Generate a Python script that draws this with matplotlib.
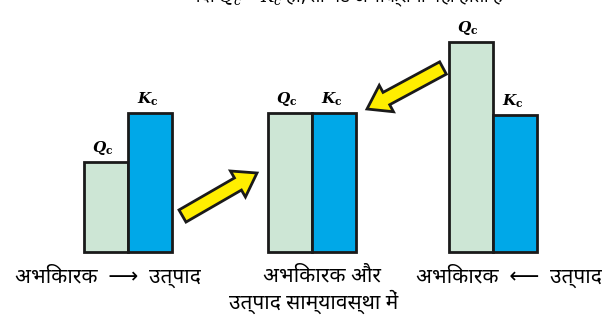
import matplotlib
matplotlib.use("Agg")
import matplotlib.pyplot as plt
import matplotlib.patches as mpatches
from matplotlib import font_manager

# bar heights (baseline = 0), three situations
groups = ["forward", "equilibrium", "backward"]
q_vals = [90, 139, 210]
k_vals = [139, 139, 137]
q_label = r"$\mathbfit{Q}_{\mathbf{c}}$"
k_label = r"$\mathbfit{K}_{\mathbf{c}}$"

captions = ["अभिकारक  ⟶  उत्पाद", "अभिकारक और", "उत्पाद साम्यावस्था में", "अभिकारक  ⟵  उत्पाद"]
top_line = "यदि $Q_c$ = $K_c$ हो, तो नेट अभिक्रिया नहीं होती है"

names = {f.name for f in font_manager.fontManager.ttflist}
deva = next((n for n in ["Noto Sans Devanagari", "Hind", "Mukta", "Anek Devanagari"] if n in names), "DejaVu Sans")
fam = [deva, "DejaVu Sans"]
plt.rcParams["mathtext.fontset"] = "dejavuserif"

q_color = "#cde6d5"
k_color = "#00a8e8"
centers = [127.5, 312, 493]
w = 44

fig = plt.figure(figsize=(6.08, 3.16), dpi=100)
ax = fig.add_axes([0, 0, 1, 1])
ax.set_xlim(0, 608)
ax.set_ylim(-64, 252)
ax.axis("off")

for c, q, k in zip(centers, q_vals, k_vals):
    ax.bar(c - w / 2, q, width=w, color=q_color, edgecolor="#1a1a1a", linewidth=2, zorder=2)
    ax.bar(c + w / 2, k, width=w, color=k_color, edgecolor="#1a1a1a", linewidth=2, zorder=3)
    ax.text(c - w / 2 - 3, q + 5, q_label, ha="center", va="bottom", fontsize=11)
    ax.text(c + w / 2 - 2, k + 5, k_label, ha="center", va="bottom", fontsize=11)

# yellow arrows between the situations
def fat_arrow(x0, y0, x1, y1):
    ar = mpatches.FancyArrow(x0, y0, x1 - x0, y1 - y0, width=14, head_width=30,
                             head_length=22, length_includes_head=True,
                             facecolor="#ffee00", edgecolor="#1a1a1a", linewidth=2, zorder=4)
    ax.add_patch(ar)

fat_arrow(centers[0] + w + 11, 36, centers[1] - w - 11, 79)
fat_arrow(centers[2] - w - 6, 184, centers[1] + w + 11, 143)

ax.text(108, -24, captions[0], ha="center", va="center", fontsize=15, family=fam)
ax.text(322, -24, captions[1], ha="center", va="center", fontsize=15, family=fam)
ax.text(314, -50, captions[2], ha="center", va="center", fontsize=15, family=fam)
ax.text(509, -24, captions[3], ha="center", va="center", fontsize=15, family=fam)
ax.text(347, 256, top_line, ha="center", va="center", fontsize=13, family=fam)

fig.savefig("out.png", dpi=100)
